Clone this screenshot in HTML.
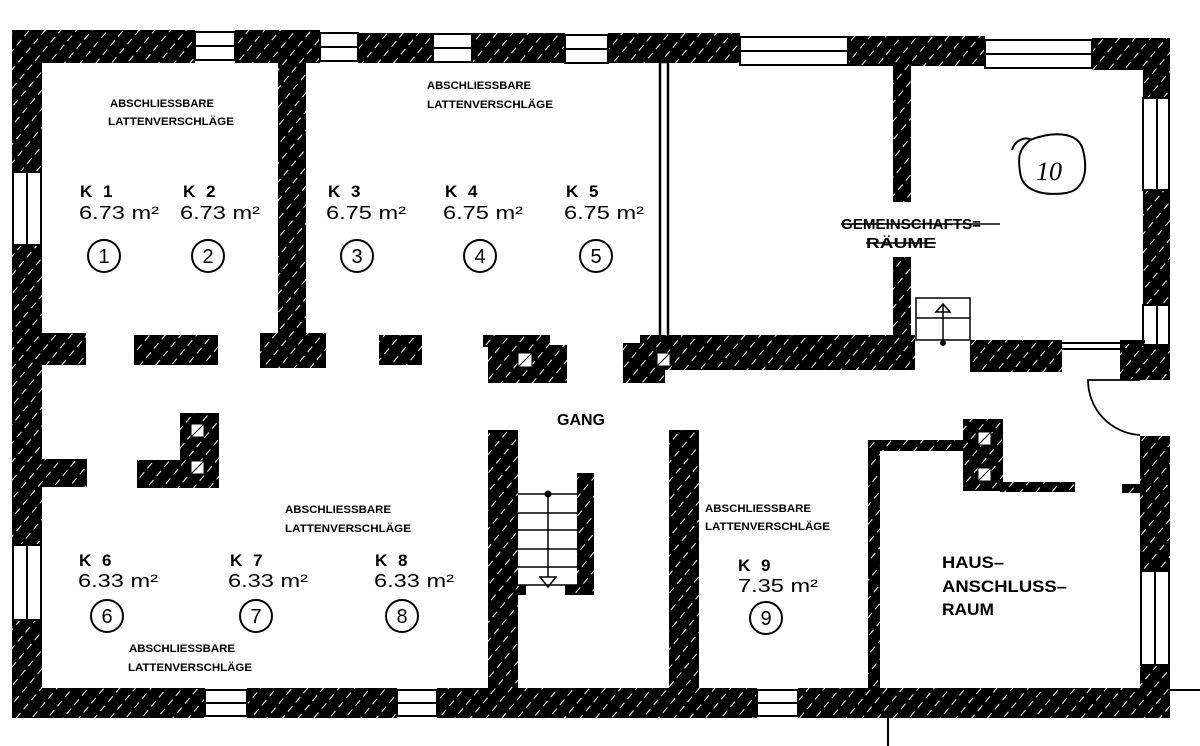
<!DOCTYPE html>
<html><head><meta charset="utf-8"><style>
html,body{margin:0;padding:0;background:#fff;}
svg{display:block;}
text{font-family:"Liberation Sans",sans-serif;fill:#000;}
.s{font-size:11px;font-weight:bold;}
.k{font-size:17px;font-weight:bold;letter-spacing:3px;}
.m{font-size:18px;}
.c{font-size:20px;}
.h{font-size:15px;font-weight:bold;}
</style></head><body>
<svg width="1200" height="746" viewBox="0 0 1200 746" xmlns="http://www.w3.org/2000/svg">
<defs>
<pattern id="hp" width="12" height="12" patternUnits="userSpaceOnUse" patternTransform="rotate(-50)">
<rect width="12" height="12" fill="#000"/>
<line x1="0" y1="6" x2="7" y2="6" stroke="#fff" stroke-width="1"/>
</pattern>
</defs>
<g fill="url(#hp)">
<rect x="12" y="30" width="183" height="33"/>
<rect x="235" y="30" width="85" height="33"/>
<rect x="358" y="33" width="75" height="30"/>
<rect x="472" y="33" width="93" height="30"/>
<rect x="608" y="33" width="132" height="30"/>
<rect x="848" y="36" width="137" height="30"/>
<rect x="1092" y="38" width="78" height="32"/>
<rect x="12" y="30" width="30" height="142"/>
<rect x="12" y="245" width="30" height="300"/>
<rect x="12" y="620" width="30" height="98"/>
<rect x="12" y="688" width="193" height="30"/>
<rect x="247" y="688" width="150" height="30"/>
<rect x="437" y="688" width="320" height="30"/>
<rect x="798" y="688" width="372" height="30"/>
<rect x="1143" y="38" width="27" height="60"/>
<rect x="1143" y="190" width="27" height="115"/>
<rect x="1143" y="345" width="27" height="35"/>
<rect x="1140" y="436" width="30" height="135"/>
<rect x="1140" y="665" width="30" height="53"/>
<rect x="278" y="62" width="28" height="275"/>
<rect x="42" y="333" width="44" height="32"/>
<rect x="134" y="335" width="84" height="30"/>
<rect x="260" y="333" width="66" height="35"/>
<rect x="379" y="335" width="43" height="30"/>
<rect x="483" y="335" width="67" height="12"/>
<rect x="488" y="345" width="79" height="38"/>
<rect x="623" y="343" width="42" height="40"/>
<rect x="640" y="335" width="275" height="35"/>
<rect x="893" y="62" width="18" height="140"/>
<rect x="893" y="257" width="18" height="80"/>
<rect x="970" y="340" width="92" height="32"/>
<rect x="1120" y="340" width="25" height="40"/>
<rect x="42" y="459" width="45" height="28"/>
<rect x="137" y="460" width="82" height="28"/>
<rect x="180" y="413" width="39" height="75"/>
<rect x="488" y="430" width="30" height="260"/>
<rect x="577" y="473" width="17" height="122"/>
<rect x="565" y="585" width="29" height="10"/>
<rect x="518" y="585" width="8" height="10"/>
<rect x="669" y="430" width="30" height="260"/>
<rect x="868" y="440" width="12" height="250"/>
<rect x="868" y="440" width="100" height="11"/>
<rect x="963" y="419" width="40" height="72"/>
<rect x="1000" y="482" width="75" height="10"/>
<rect x="1122" y="484" width="20" height="9"/>
</g>
<g fill="#fff" stroke="#000" stroke-width="1">
<rect x="518" y="353" width="14" height="14"/><line x1="518" y1="367" x2="532" y2="353"/>
<rect x="657" y="353" width="13" height="13"/><line x1="657" y1="366" x2="670" y2="353"/>
<rect x="191" y="424" width="13" height="13"/><line x1="191" y1="437" x2="204" y2="424"/>
<rect x="191" y="461" width="13" height="13"/><line x1="191" y1="474" x2="204" y2="461"/>
<rect x="978" y="432" width="13" height="13"/><line x1="978" y1="445" x2="991" y2="432"/>
<rect x="978" y="468" width="13" height="13"/><line x1="978" y1="481" x2="991" y2="468"/>
</g>
<g fill="none" stroke="#000" stroke-width="2">
<rect x="195" y="32" width="40" height="28"/><line x1="195" y1="46" x2="235" y2="46"/>
<rect x="320" y="33" width="38" height="28"/><line x1="320" y1="47" x2="358" y2="47"/>
<rect x="433" y="34" width="39" height="28"/><line x1="433" y1="48" x2="472" y2="48"/>
<rect x="565" y="35" width="43" height="28"/><line x1="565" y1="49" x2="608" y2="49"/>
<rect x="740" y="37" width="108" height="28"/><line x1="740" y1="51" x2="848" y2="51"/>
<rect x="985" y="40" width="107" height="28"/><line x1="985" y1="54" x2="1092" y2="54"/>
<rect x="13" y="172" width="28" height="73"/><line x1="27" y1="172" x2="27" y2="245"/>
<rect x="13" y="545" width="28" height="75"/><line x1="27" y1="545" x2="27" y2="620"/>
<rect x="205" y="690" width="42" height="26"/><line x1="205" y1="703" x2="247" y2="703"/>
<rect x="397" y="690" width="40" height="26"/><line x1="397" y1="703" x2="437" y2="703"/>
<rect x="757" y="690" width="41" height="26"/><line x1="757" y1="703" x2="798" y2="703"/>
<rect x="1143" y="98" width="26" height="92"/><line x1="1157" y1="98" x2="1157" y2="190"/>
<rect x="1143" y="305" width="26" height="40"/><line x1="1157" y1="305" x2="1157" y2="345"/>
<rect x="1141" y="571" width="28" height="94"/><line x1="1155" y1="571" x2="1155" y2="665"/>
</g>
<g stroke="#000" fill="none">
<rect x="660" y="62" width="8" height="275" stroke-width="2.5"/>
<line x1="1062" y1="343" x2="1140" y2="343" stroke-width="2"/>
<line x1="1062" y1="349" x2="1140" y2="349" stroke-width="2"/>
<rect x="916" y="298" width="54" height="42" stroke-width="1.5"/>
<line x1="916" y1="318" x2="970" y2="318" stroke-width="1.5"/>
<line x1="943" y1="305" x2="943" y2="343" stroke-width="1.5"/>
<path d="M936 312 L943 304 L950 312 Z" stroke-width="1.5"/>
<circle cx="943" cy="343" r="2.5" fill="#000"/>
<path d="M1140 380 L1088 380 A55 55 0 0 0 1140 435" stroke-width="1.8"/>
<g stroke-width="1.5">
<line x1="518" y1="494" x2="577" y2="494"/>
<line x1="518" y1="513" x2="577" y2="513"/>
<line x1="518" y1="530" x2="577" y2="530"/>
<line x1="518" y1="549" x2="577" y2="549"/>
<line x1="518" y1="567" x2="577" y2="567"/>
<line x1="518" y1="585" x2="577" y2="585"/>
<line x1="548" y1="494" x2="548" y2="577"/>
<path d="M540 577 L556 577 L548 587 Z"/>
</g>
<circle cx="548" cy="494" r="3" fill="#000"/>
<line x1="1170" y1="690" x2="1200" y2="690" stroke-width="2"/>
<line x1="888" y1="718" x2="888" y2="746" stroke-width="2"/>
<path d="M1030 140 C1050 132 1078 130 1083 150 C1088 170 1085 190 1066 193 C1045 196 1022 192 1020 172 C1018 158 1018 150 1030 140 Z" stroke-width="2"/>
<path d="M1012 150 C1015 140 1025 136 1032 140" stroke-width="2"/>
</g>
<text x="1036" y="180" style="font-family:'Liberation Serif',serif;font-style:italic;font-size:26px">10</text>
<g class="s">
<text x="110" y="107" textLength="104" lengthAdjust="spacingAndGlyphs">ABSCHLIESSBARE</text>
<text x="108" y="125" textLength="126" lengthAdjust="spacingAndGlyphs">LATTENVERSCHLÄGE</text>
<text x="427" y="89" textLength="104" lengthAdjust="spacingAndGlyphs">ABSCHLIESSBARE</text>
<text x="427" y="108" textLength="126" lengthAdjust="spacingAndGlyphs">LATTENVERSCHLÄGE</text>
<text x="285" y="513" textLength="106" lengthAdjust="spacingAndGlyphs">ABSCHLIESSBARE</text>
<text x="285" y="532" textLength="126" lengthAdjust="spacingAndGlyphs">LATTENVERSCHLÄGE</text>
<text x="129" y="652" textLength="106" lengthAdjust="spacingAndGlyphs">ABSCHLIESSBARE</text>
<text x="128" y="671" textLength="124" lengthAdjust="spacingAndGlyphs">LATTENVERSCHLÄGE</text>
<text x="705" y="512" textLength="106" lengthAdjust="spacingAndGlyphs">ABSCHLIESSBARE</text>
<text x="705" y="530" textLength="125" lengthAdjust="spacingAndGlyphs">LATTENVERSCHLÄGE</text>
</g>
<g class="k">
<text x="80" y="197">K 1</text><text x="183" y="197">K 2</text>
<text x="328" y="197">K 3</text><text x="445" y="197">K 4</text><text x="566" y="197">K 5</text>
<text x="79" y="566">K 6</text><text x="230" y="566">K 7</text><text x="375" y="566">K 8</text>
<text x="738" y="571">K 9</text>
</g>
<text x="557" y="425" style="font-size:16px;font-weight:bold">GANG</text>
<g class="m">
<text x="79" y="219" textLength="80" lengthAdjust="spacingAndGlyphs">6.73 m²</text>
<text x="180" y="219" textLength="80" lengthAdjust="spacingAndGlyphs">6.73 m²</text>
<text x="326" y="219" textLength="80" lengthAdjust="spacingAndGlyphs">6.75 m²</text>
<text x="443" y="219" textLength="80" lengthAdjust="spacingAndGlyphs">6.75 m²</text>
<text x="564" y="219" textLength="80" lengthAdjust="spacingAndGlyphs">6.75 m²</text>
<text x="78" y="587" textLength="80" lengthAdjust="spacingAndGlyphs">6.33 m²</text>
<text x="228" y="587" textLength="80" lengthAdjust="spacingAndGlyphs">6.33 m²</text>
<text x="374" y="587" textLength="80" lengthAdjust="spacingAndGlyphs">6.33 m²</text>
<text x="738" y="592" textLength="80" lengthAdjust="spacingAndGlyphs">7.35 m²</text>
</g>
<g fill="none" stroke="#000" stroke-width="2">
<circle cx="104" cy="256" r="16"/><circle cx="208" cy="256" r="16"/>
<circle cx="357" cy="256" r="16"/><circle cx="480" cy="256" r="16"/><circle cx="596" cy="256" r="16"/>
<circle cx="107" cy="616" r="16"/><circle cx="256" cy="616" r="16"/><circle cx="402" cy="616" r="16"/>
<circle cx="766" cy="618" r="16"/>
</g>
<g class="c" text-anchor="middle">
<text x="104" y="263">1</text><text x="208" y="263">2</text><text x="357" y="263">3</text>
<text x="480" y="263">4</text><text x="596" y="263">5</text>
<text x="107" y="623">6</text><text x="256" y="623">7</text><text x="402" y="623">8</text>
<text x="766" y="625">9</text>
</g>
<g class="h">
<text x="841" y="229" textLength="140" lengthAdjust="spacingAndGlyphs">GEMEINSCHAFTS=</text>
<text x="866" y="248" textLength="70" lengthAdjust="spacingAndGlyphs">RÄUME</text>
</g>
<line x1="841" y1="224" x2="1000" y2="224" stroke="#000" stroke-width="1.5"/>
<line x1="866" y1="243" x2="936" y2="243" stroke="#000" stroke-width="1.5"/>
<g style="font-size:17px;font-weight:bold">
<text x="942" y="568" textLength="62" lengthAdjust="spacingAndGlyphs">HAUS–</text>
<text x="942" y="592" textLength="125" lengthAdjust="spacingAndGlyphs">ANSCHLUSS–</text>
<text x="942" y="615" textLength="52" lengthAdjust="spacingAndGlyphs">RAUM</text>
</g>
</svg>
</body></html>
